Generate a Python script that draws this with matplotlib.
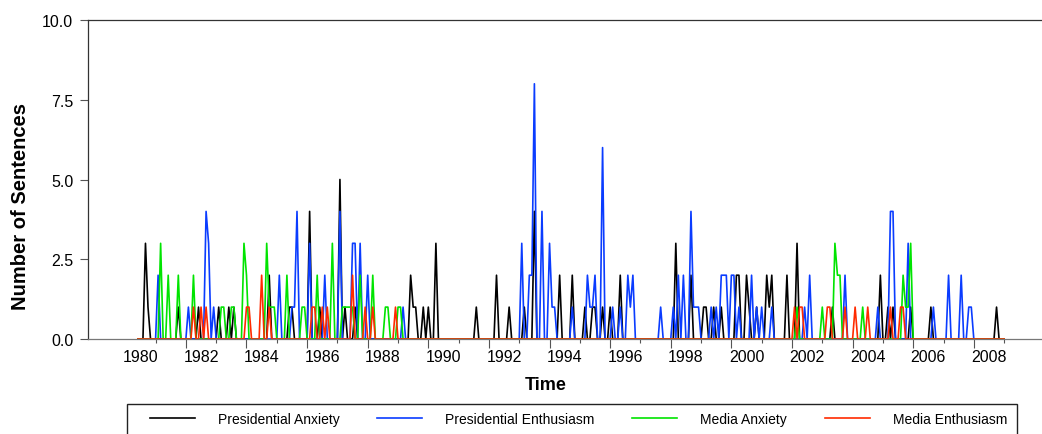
import numpy as np
import pandas as pd
import matplotlib
matplotlib.use("Agg")
import matplotlib.pyplot as plt
from matplotlib.patches import Rectangle

plt.rcParams["font.family"] = ["Liberation Sans", "DejaVu Sans"]

# 월별 시계열 (값이 0이 아닌 달만 기록, 나머지는 0)
first_month, last_month = "1980-06", "2009-01"

pres_anxiety = [
    ("1980-09", 3), ("1980-10", 1), ("1981-10", 1), ("1982-06", 1), ("1983-02", 1),
    ("1983-06", 1), ("1983-08", 1), ("1984-10", 2), ("1985-06", 1), ("1985-07", 1),
    ("1986-02", 4), ("1986-06", 1), ("1987-02", 5), ("1987-04", 1), ("1987-08", 1),
    ("1989-06", 2), ("1989-07", 1), ("1989-08", 1), ("1989-11", 1), ("1990-01", 1),
    ("1990-04", 3), ("1991-08", 1), ("1992-04", 2), ("1992-09", 1), ("1993-03", 1),
    ("1993-07", 4), ("1994-05", 2), ("1994-10", 2), ("1995-03", 1), ("1995-06", 1),
    ("1995-07", 1), ("1995-10", 1), ("1996-01", 1), ("1996-05", 2), ("1998-03", 3),
    ("1998-09", 2), ("1999-02", 1), ("1999-03", 1), ("1999-06", 1), ("1999-09", 1),
    ("2000-03", 2), ("2000-04", 2), ("2000-07", 2), ("2000-08", 1), ("2000-11", 1),
    ("2001-03", 2), ("2001-04", 1), ("2001-05", 2), ("2001-11", 2), ("2002-03", 3),
    ("2003-05", 1), ("2004-12", 2), ("2005-03", 1), ("2005-05", 1), ("2005-12", 1),
    ("2006-08", 1), ("2008-10", 1),
]
pres_enthusiasm = [
    ("1981-02", 2), ("1982-02", 1), ("1982-09", 4), ("1982-10", 3), ("1982-12", 1),
    ("1985-02", 2), ("1985-07", 1), ("1985-08", 1), ("1985-09", 4), ("1986-02", 3),
    ("1986-08", 2), ("1987-02", 4), ("1987-07", 3), ("1987-08", 3), ("1987-10", 3),
    ("1988-01", 2), ("1989-03", 1), ("1993-02", 3), ("1993-05", 2), ("1993-06", 2),
    ("1993-07", 8), ("1993-10", 4), ("1994-01", 3), ("1994-02", 1), ("1994-03", 1),
    ("1994-10", 1), ("1995-04", 2), ("1995-05", 1), ("1995-06", 1), ("1995-07", 2),
    ("1995-10", 6), ("1996-02", 1), ("1996-05", 1), ("1996-08", 2), ("1996-09", 1),
    ("1996-10", 2), ("1997-09", 1), ("1998-02", 1), ("1998-04", 2), ("1998-06", 2),
    ("1998-09", 4), ("1998-10", 1), ("1998-11", 1), ("1998-12", 1), ("1999-05", 1),
    ("1999-07", 1), ("1999-09", 2), ("1999-10", 2), ("1999-11", 2), ("2000-01", 2),
    ("2000-02", 2), ("2000-04", 1), ("2000-09", 2), ("2000-11", 1), ("2001-01", 1),
    ("2001-05", 1), ("2002-06", 1), ("2002-08", 2), ("2003-10", 2), ("2004-11", 1),
    ("2005-04", 4), ("2005-05", 4), ("2005-11", 3), ("2006-09", 1), ("2007-03", 2),
    ("2007-08", 2), ("2007-11", 1), ("2007-12", 1),
]
media_anxiety = [
    ("1981-03", 3), ("1981-06", 2), ("1981-10", 2), ("1982-04", 2), ("1983-03", 1),
    ("1983-04", 1), ("1983-07", 1), ("1983-08", 1), ("1983-12", 3), ("1984-01", 2),
    ("1984-09", 3), ("1984-10", 1), ("1984-11", 1), ("1984-12", 1), ("1985-05", 2),
    ("1985-11", 1), ("1985-12", 1), ("1986-05", 2), ("1986-11", 3), ("1987-03", 1),
    ("1987-04", 1), ("1987-05", 1), ("1987-06", 1), ("1987-07", 1), ("1987-10", 2),
    ("1988-03", 2), ("1988-08", 1), ("1988-09", 1), ("1989-01", 1), ("1989-02", 1),
    ("2002-03", 1), ("2003-01", 1), ("2003-06", 3), ("2003-07", 2), ("2003-08", 2),
    ("2004-05", 1), ("2005-09", 2), ("2005-10", 1), ("2005-11", 1), ("2005-12", 3),
]
media_enthusiasm = [
    ("1982-04", 1), ("1982-07", 1), ("1982-09", 1), ("1984-01", 1), ("1984-02", 1),
    ("1984-07", 2), ("1984-10", 1), ("1986-03", 1), ("1986-04", 1), ("1986-07", 1),
    ("1986-09", 1), ("1987-07", 2), ("1987-12", 1), ("1988-03", 1), ("1988-12", 1),
    ("2002-02", 1), ("2002-04", 1), ("2002-05", 1), ("2003-03", 1), ("2003-04", 1),
    ("2003-10", 1), ("2004-02", 1), ("2004-07", 1), ("2005-04", 1), ("2005-08", 1),
    ("2005-09", 1),
]

labels = ["Presidential Anxiety", "Presidential Enthusiasm", "Media Anxiety", "Media Enthusiasm"]
colors = ["#000000", "#0a3cff", "#00e400", "#ff2a00"]

months = pd.period_range(first_month, last_month, freq="M")
t = months.year + (months.month - 1) / 12.0


def to_monthly(spikes):
    s = pd.Series(0.0, index=months)
    for m, v in spikes:
        s[pd.Period(m, freq="M")] = v
    return s.values


W, H = 1042, 435
fig = plt.figure(figsize=(W / 100, H / 100), dpi=100)
ax = fig.add_axes([88.3 / W, 1 - 340 / H, 1 - 88.3 / W, (340 - 21) / H])

for spikes, lab, c in zip([pres_anxiety, pres_enthusiasm, media_anxiety, media_enthusiasm], labels, colors):
    ax.plot(t, to_monthly(spikes), color=c, lw=1.2, label=lab)

ax.set_xlim(1978.78, 2010.25)
ax.set_ylim(0, 10)

# y축
ax.set_yticks([0, 2.5, 5, 7.5, 10])
ax.set_yticklabels([f"{v:.1f}" for v in [0, 2.5, 5, 7.5, 10]])
ax.tick_params(axis="y", length=5.8, width=0.8, color="#555555", labelsize=11.5, pad=5)

# x축: 눈금은 해 시작, 라벨은 해 중간
ax.set_xticks(np.arange(1982, 2009, 2))
ax.set_xticks(np.arange(1981, 2010, 2), minor=True)
ax.tick_params(axis="x", which="major", length=6.5, width=0.8, color="#555555", labelbottom=False)
ax.tick_params(axis="x", which="minor", length=3.2, width=0.8, color="#555555")
years = np.arange(1980, 2009, 2)
sec = ax.secondary_xaxis("bottom")
sec.set_xticks(years + 0.5, [str(y) for y in years])
sec.tick_params(length=0, labelsize=11.5, pad=7)
sec.spines["bottom"].set_visible(False)

for side in ["left", "top"]:
    ax.spines[side].set_color("#333333")
    ax.spines[side].set_linewidth(0.9)
ax.spines["bottom"].set_color("#777777")
ax.spines["bottom"].set_linewidth(0.9)
ax.spines["right"].set_visible(False)

ax.set_xlabel("Time", fontsize=13, fontweight="bold", va="center")
ax.xaxis.set_label_coords(0.48, -0.143)
ax.set_ylabel("Number of Sentences", fontsize=14.5, fontweight="bold", va="center")
ax.yaxis.set_label_coords(-0.071, 0.417)

# 범례: 테두리는 그림 아래로 잘려 나가는 상자
fig.legend(loc="center left", bbox_to_anchor=(150 / W, 1 - 420 / H), ncol=4,
           fontsize=10, frameon=False, borderpad=0, borderaxespad=0,
           handlelength=3.25, handletextpad=1.65, columnspacing=2.7)
fig.patches.append(Rectangle((127 / W, -0.05), (1017 - 127) / W, 0.05 + 1 - 404.5 / H,
                             transform=fig.transFigure, fill=False,
                             edgecolor="#222222", linewidth=1.0))

fig.savefig("out.png", dpi=100)
